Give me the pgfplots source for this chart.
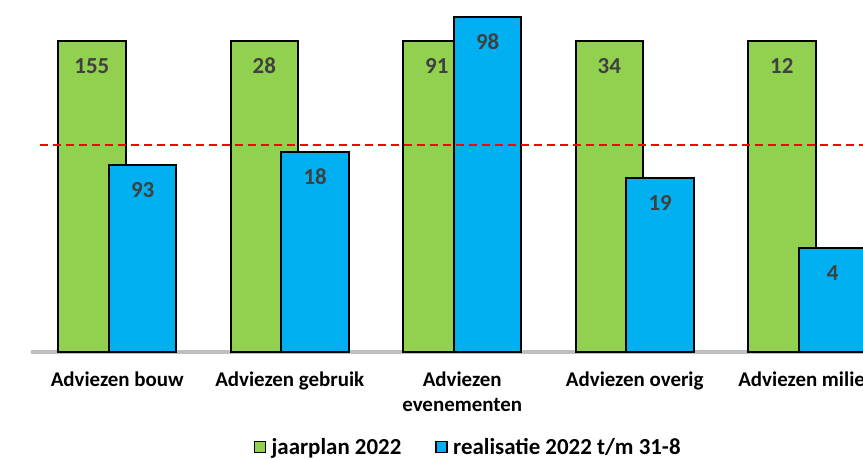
\documentclass[border=0pt]{standalone}
\usepackage{pgfplots}
\pgfplotsset{compat=1.18}
\usepackage{fontspec}
\setmainfont{Carlito}
\definecolor{grn}{HTML}{92D050}
\definecolor{blu}{HTML}{00B0F0}
\definecolor{axgray}{HTML}{BFBFBF}
\definecolor{lblgray}{HTML}{404040}
\begin{document}
\begin{tikzpicture}
\useasboundingbox (0,0) rectangle (863bp,460bp);
\clip (0,0) rectangle (863bp,460bp);
\begin{axis}[
  at={(31bp,108bp)}, anchor=south west,
  scale only axis, width=862.5bp, height=342.1bp,
  xmin=-0.5, xmax=4.5, ymin=0, ymax=110,
  axis x line=bottom, axis y line=none,
  x axis line style={draw=axgray, line width=3bp, -},
  xtick={0,1,2,3,4},
  xticklabels={Adviezen bouw, Adviezen gebruik, Adviezen\\evenementen, Adviezen overig, Adviezen milieu},
  major tick length=0pt,
  xticklabel style={font=\fontsize{21}{25}\selectfont\bfseries, align=center, anchor=north, yshift=-16bp},
  clip=false,
  legend columns=2,
  legend style={draw=none, fill=none, at={(0.5,0)}, anchor=center, xshift=6bp, yshift=-95bp,
    font=\fontsize{23}{27}\selectfont\bfseries,
    /tikz/every even column/.append style={column sep=32bp}},
  legend image code/.code={\draw[#1, line width=1.5bp] (0bp,-5.5bp) rectangle (11bp,5.5bp);\path[draw=none,fill=none] (15bp,0bp);},
]
\addplot[ybar, bar width=0.39, bar shift=-0.147, fill=grn, draw=black, line width=2bp,
  nodes near coords, point meta=explicit symbolic,
  every node near coord/.append style={anchor=center, xshift=-25.4bp, yshift=-25bp, font=\fontsize{23}{27}\selectfont\bfseries, text=lblgray}]
  coordinates {(0,100)[155] (1,100)[28] (2,100)[91] (3,100)[34] (4,100)[12]};
\addlegendentry{jaarplan 2022}
\addplot[ybar, bar width=0.39, bar shift=0.147, fill=blu, draw=black, line width=2bp,
  nodes near coords, point meta=explicit symbolic,
  every node near coord/.append style={anchor=center, xshift=25.4bp, yshift=-25bp, font=\fontsize{23}{27}\selectfont\bfseries, text=lblgray}]
  coordinates {(0,60)[93] (1,64.29)[18] (2,107.69)[98] (3,55.88)[19] (4,33.33)[4]};
\addlegendentry{realisatie 2022 t/m 31-8}
\addplot[forget plot, red, line width=2bp, dash pattern=on 8bp off 5bp]
  coordinates {(-0.45,66.67) (4.5,66.67)};
\end{axis}
\end{tikzpicture}
\end{document}
